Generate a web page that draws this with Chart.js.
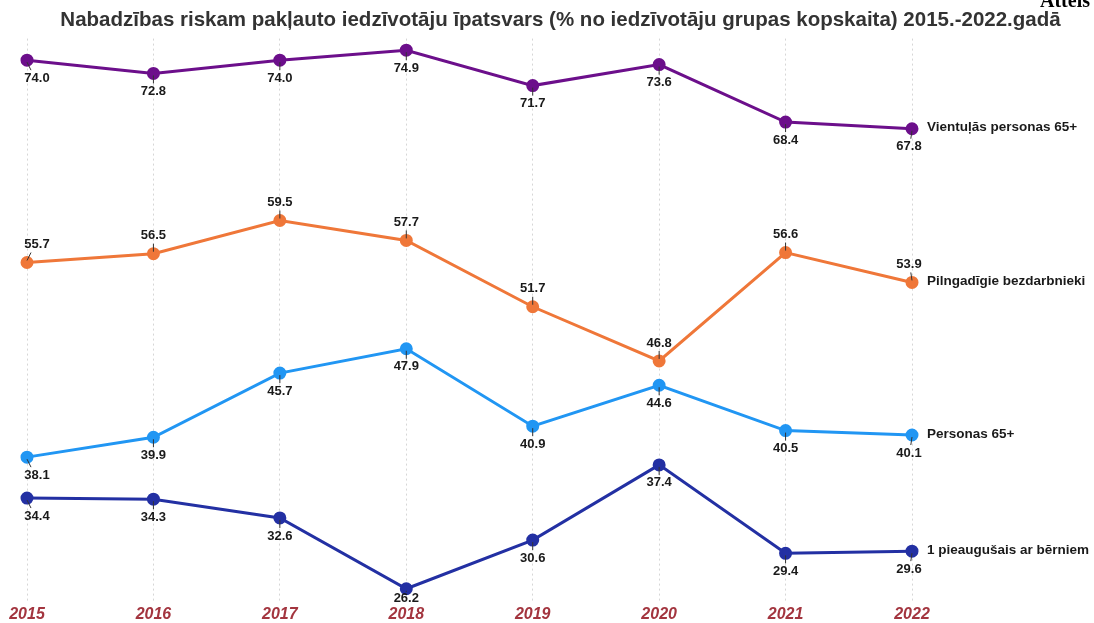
<!DOCTYPE html>
<html>
<head>
<meta charset="utf-8">
<script src="https://cdn.jsdelivr.net/npm/chart.js@4"></script>
<style>
  html, body { margin: 0; padding: 0; background: #fff; }
  #wrap { width: 1094px; height: 623px; position: relative; }
</style>
</head>
<body>
<div id="wrap"><canvas id="chart"></canvas></div>
<script>
const years = ["2015", "2016", "2017", "2018", "2019", "2020", "2021", "2022"];
const seriesNames = ["Vientuļās personas 65+", "Pilngadīgie bezdarbnieki", "Personas 65+", "1 pieaugušais ar bērniem"];
const vientulas = [74.0, 72.8, 74.0, 74.9, 71.7, 73.6, 68.4, 67.8];
const bezdarbnieki = [55.7, 56.5, 59.5, 57.7, 51.7, 46.8, 56.6, 53.9];
const personas65 = [38.1, 39.9, 45.7, 47.9, 40.9, 44.6, 40.5, 40.1];
const vecaki = [34.4, 34.3, 32.6, 26.2, 30.6, 37.4, 29.4, 29.6];

const colors = ["#6c0f8b", "#ef7739", "#2196f3", "#2330a3"];
// which side the value labels go: 1 = below, -1 = above
const sides = [1, -1, 1, 1];

function line(label, data, color) {
  return {
    label: label,
    data: data,
    borderColor: color,
    backgroundColor: color,
    borderWidth: 3,
    pointRadius: 5,
    pointHoverRadius: 5,
    tension: 0
  };
}

// value labels with small leader lines + series names at the right end
const labelPlugin = {
  id: "labels",
  afterDatasetsDraw(chart) {
    const ctx = chart.ctx;
    const area = chart.chartArea;
    ctx.save();
    chart.data.datasets.forEach((ds, i) => {
      const pts = chart.getDatasetMeta(i).data;
      const side = sides[i];
      pts.forEach((p, j) => {
        let dx = 0;
        if (j === 0) dx = 10;
        if (j === pts.length - 1) dx = -3;
        let ty = p.y + side * 18;
        if (ty > area.bottom - 4) ty = area.bottom - 4;
        // leader line
        ctx.strokeStyle = "#333";
        ctx.lineWidth = 1;
        ctx.beginPath();
        ctx.moveTo(p.x, p.y + side * 2);
        ctx.lineTo(p.x + dx * 0.4, p.y + side * Math.min(10, Math.abs(ty - p.y) - 6));
        ctx.stroke();
        ctx.fillStyle = "#1a1a1a";
        ctx.font = "bold 13px 'Liberation Sans', Arial, sans-serif";
        ctx.textAlign = "center";
        ctx.textBaseline = "middle";
        ctx.fillText(ds.data[j].toFixed(1), p.x + dx, ty);
      });
      const last = pts[pts.length - 1];
      ctx.textAlign = "left";
      ctx.textBaseline = "middle";
      ctx.fillStyle = "#1a1a1a";
      ctx.font = "bold 13.5px 'Liberation Sans', Arial, sans-serif";
      ctx.fillText(ds.label, last.x + 15, last.y - 1);
    });
    // clipped page caption at top right
    ctx.fillStyle = "#000";
    ctx.font = "bold 20px 'Liberation Serif', serif";
    ctx.textAlign = "left";
    ctx.textBaseline = "alphabetic";
    ctx.fillText("Attēls", 1040, 7);
    ctx.restore();
  }
};

new Chart(document.getElementById("chart"), {
  type: "line",
  data: {
    labels: years,
    datasets: [
      line(seriesNames[0], vientulas, colors[0]),
      line(seriesNames[1], bezdarbnieki, colors[1]),
      line(seriesNames[2], personas65, colors[2]),
      line(seriesNames[3], vecaki, colors[3])
    ]
  },
  options: {
    responsive: true,
    maintainAspectRatio: false,
    animation: false,
    layout: { padding: { left: 27, right: 0, top: 0, bottom: 0 } },
    plugins: {
      legend: { display: false },
      tooltip: { enabled: false },
      title: {
        display: true,
        text: "Nabadzības riskam pakļauto iedzīvotāju īpatsvars (% no iedzīvotāju grupas kopskaita) 2015.-2022.gadā",
        color: "#333",
        font: { family: "'Liberation Sans', Arial, sans-serif", size: 20.5, weight: "bold" },
        padding: { top: 8, bottom: 6 }
      }
    },
    scales: {
      x: {
        offset: false,
        grid: { color: "#d6d6d6", lineWidth: 1, drawTicks: false },
        border: { display: false, dash: [2, 3] },
        ticks: {
          color: "#a3353f",
          padding: 3,
          font: { family: "'Liberation Sans', Arial, sans-serif", size: 16, weight: "bold", style: "italic" }
        },
        afterFit(scale) { scale.height = 21; }
      },
      y: {
        display: false,
        min: 25,
        max: 75.95
      },
      // empty right-hand axis that reserves room for the series names
      side: {
        position: "right",
        display: true,
        grid: { display: false },
        border: { display: false },
        ticks: { display: false },
        afterFit(scale) { scale.width = 182; }
      }
    }
  },
  plugins: [labelPlugin]
});
</script>
</body>
</html>
